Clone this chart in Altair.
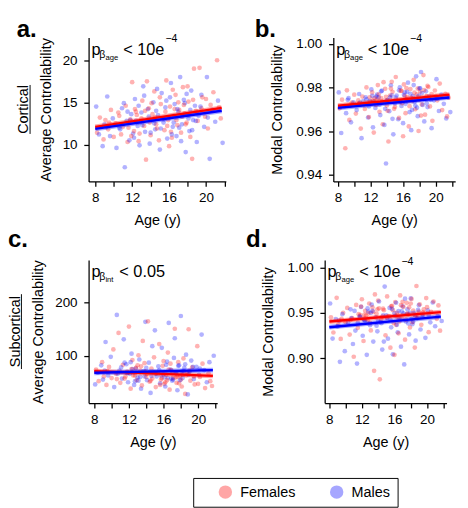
import altair as alt
import pandas as pd

FONT = "Liberation Sans"

# ---------------- data ----------------
sexes = ["Females", "Males"]
sex_colors = ["#ff0000", "#0000ff"]

female_age = [8.2, 8.5, 8.9, 9.1, 9.4, 9.7, 10.0, 10.2, 10.5, 10.8, 11.0, 11.3, 11.5, 11.8, 12.0,
              12.2, 12.4, 12.7, 12.9, 13.1, 13.3, 13.5, 13.8, 14.0, 14.2, 14.4, 14.6, 14.9, 15.1, 15.3,
              15.5, 15.7, 15.9, 16.1, 16.3, 16.5, 16.7, 16.9, 17.1, 17.3, 17.5, 17.7, 17.9, 18.1, 18.3,
              18.5, 18.7, 18.9, 19.1, 19.3, 19.6, 19.9, 20.2, 20.5, 20.8, 21.2, 21.4, 21.6, 13.6, 16.0,
              12.5, 14.7, 16.6, 17.8, 15.0, 13.0, 18.0, 11.6, 19.0, 16.2, 14.1, 17.4, 12.8, 15.6, 18.6,
              13.9, 10.6, 16.8, 19.5, 14.5, 17.0, 12.3, 15.8, 18.2, 20.0, 13.4, 16.4, 11.9, 17.6, 9.5]
male_age = [8.1, 8.4, 8.8, 9.0, 9.3, 9.6, 9.9, 10.3, 10.6, 10.9, 11.2, 11.4, 11.7, 11.9, 12.1,
            12.3, 12.6, 12.8, 13.0, 13.2, 13.4, 13.7, 13.9, 14.1, 14.3, 14.5, 14.8, 15.0, 15.2, 15.4,
            15.6, 15.8, 16.0, 16.2, 16.4, 16.6, 16.8, 17.0, 17.2, 17.4, 17.6, 17.8, 18.0, 18.2, 18.4,
            18.6, 18.8, 19.0, 19.2, 19.5, 19.8, 20.1, 20.4, 20.7, 21.0, 21.3, 21.8, 14.7, 17.3, 11.1,
            12.4, 14.6, 16.5, 17.7, 15.1, 13.1, 18.1, 11.5, 18.9, 16.1, 14.0, 17.5, 12.7, 15.5, 18.5,
            13.8, 10.7, 16.9, 19.4, 14.4, 17.1, 12.2, 15.7, 18.3, 20.2, 13.3, 16.3, 11.8, 17.9, 9.2]

cort_avg_f = [11.4, 13.2, 10.6, 12.9, 11.8, 14.1, 10.9, 12.5, 13.8, 11.2, 12.1, 14.6, 10.3, 13.0, 17.4,
              11.6, 13.9, 10.4, 12.7, 15.2, 12.2, 8.2, 14.3, 11.1, 13.6, 16.3, 12.4, 10.5, 14.8, 13.1,
              11.7, 17.6, 12.9, 14.5, 10.8, 13.4, 15.9, 12.3, 14.1, 11.4, 16.8, 13.7, 12.6, 15.1, 10.9,
              8.3, 19.0, 14.0, 12.8, 19.1, 15.6, 13.3, 11.9, 14.7, 16.2, 20.0, 14.4, 13.1, 17.5, 9.8,
              13.5, 11.9, 14.2, 12.4, 15.6, 13.1, 16.9, 12.0, 13.8, 11.5, 14.9, 13.3, 11.3, 13.9, 15.3,
              12.6, 13.4, 12.9, 14.3, 13.2, 15.0, 14.2, 12.2, 13.6, 15.4, 14.0, 16.5, 11.0, 14.7, 12.6]
cort_avg_m = [14.5, 11.2, 9.8, 12.4, 15.7, 11.0, 13.1, 9.6, 12.0, 14.3, 7.3, 12.8, 10.5, 13.6, 11.3,
              15.4, 12.2, 9.9, 13.8, 16.9, 11.5, 14.2, 10.1, 12.9, 15.0, 11.8, 13.5, 9.4, 16.1, 12.6,
              14.4, 10.7, 13.2, 17.3, 12.1, 14.8, 11.0, 13.9, 18.0, 12.4, 15.3, 9.1, 13.6, 11.6, 16.4,
              12.9, 14.6, 10.3, 13.4, 15.9, 12.1, 18.0, 8.3, 14.1, 12.7, 15.2, 10.2, 16.6, 10.4, 14.9,
              12.8, 14.0, 12.6, 14.9, 11.9, 12.3, 13.1, 13.9, 12.8, 15.6, 11.4, 13.5, 14.6, 13.0, 11.7,
              13.3, 11.8, 14.2, 14.5, 12.5, 12.0, 10.8, 15.2, 14.1, 13.2, 15.8, 11.2, 12.9, 16.0, 12.1]

cort_modal_f = [0.9705, 0.9745, 0.9522, 0.9788, 0.9652, 0.9731, 0.9768, 0.9681, 0.9742, 0.9612,
                0.9759, 0.9702, 0.9801, 0.9665, 0.9736, 0.9778, 0.9594, 0.9721, 0.9812, 0.9689,
                0.9752, 0.9632, 0.9795, 0.9718, 0.9553, 0.9764, 0.9827, 0.9703, 0.9849, 0.9741,
                0.9661, 0.9786, 0.9729, 0.9815, 0.9683, 0.9757, 0.9622, 0.9794, 0.9738, 0.9836,
                0.9701, 0.9769, 0.9601, 0.9782, 0.9723, 0.9858, 0.9676, 0.9761, 0.9803, 0.9714,
                0.9648, 0.9787, 0.9742, 0.9819, 0.9697, 0.9772, 0.9668, 0.9754, 0.9825, 0.9577,
                0.9752, 0.9781, 0.9738, 0.9796, 0.9712, 0.9769, 0.9744, 0.9727, 0.9808, 0.9763,
                0.9694, 0.9777, 0.9748, 0.9735, 0.9789, 0.9758, 0.9726, 0.9715, 0.9771, 0.9796,
                0.9753, 0.9741, 0.9785, 0.9672, 0.9761, 0.9733, 0.9798, 0.9756, 0.9745, 0.9718]
cort_modal_m = [0.9778, 0.9592, 0.9715, 0.9683, 0.9752, 0.9641, 0.9733, 0.9697, 0.9771, 0.9568,
                0.9724, 0.9756, 0.9663, 0.9739, 0.9792, 0.9618, 0.9707, 0.9768, 0.9755, 0.9674,
                0.9786, 0.9629, 0.9452, 0.9743, 0.9692, 0.9811, 0.9586, 0.9728, 0.9764, 0.9655,
                0.9802, 0.9716, 0.9637, 0.9779, 0.9746, 0.9823, 0.9688, 0.9605, 0.9761, 0.9734,
                0.9852, 0.9669, 0.9797, 0.9872, 0.9721, 0.9645, 0.9783, 0.9711, 0.9759, 0.9614,
                0.9742, 0.9839, 0.9693, 0.9768, 0.9726, 0.9659, 0.9688, 0.9657, 0.9812, 0.9738,
                0.9736, 0.9765, 0.9781, 0.9708, 0.9754, 0.9722, 0.9797, 0.9746, 0.9729, 0.9767,
                0.9741, 0.9718, 0.9759, 0.9788, 0.9749, 0.9703, 0.9731, 0.9772, 0.9744, 0.9756,
                0.9698, 0.9762, 0.9737, 0.9775, 0.9751, 0.9783, 0.9726, 0.9714, 0.9763, 0.9744]

sub_avg_f = [74, 52, 88, 61, 45, 79, 58, 112, 66, 143, 49, 83, 57, 70, 155,
             38, 92, 63, 54, 101, 72, 44, 86, 60, 165, 51, 76, 97, 41, 68,
             122, 55, 81, 47, 64, 106, 36, 73, 58, 151, 49, 88, 62, 42, 95,
             28, 69, 150, 53, 78, 46, 118, 60, 85, 39, 67, 52, 43, 128, 90,
             63, 57, 74, 48, 69, 82, 55, 61, 72, 50, 66, 59, 77, 45, 63,
             70, 56, 85, 61, 53, 67, 75, 58, 64, 47, 80, 54, 68, 60, 71]
sub_avg_m = [46, 68, 82, 55, 126, 63, 98, 41, 177, 72, 57, 131, 84, 50, 66,
             104, 45, 76, 59, 93, 38, 71, 164, 54, 87, 30, 69, 148, 61, 80,
             48, 115, 65, 42, 89, 162, 74, 53, 96, 67, 35, 82, 175, 58, 77,
             102, 27, 70, 91, 56, 79, 64, 140, 73, 50, 88, 100, 118, 133, 78,
             75, 62, 58, 81, 66, 53, 70, 87, 64, 59, 77, 68, 52, 73, 84,
             61, 66, 57, 79, 69, 55, 88, 63, 71, 76, 60, 83, 67, 54, 72]

sub_modal_f = [0.9452, 0.9285, 0.9668, 0.9371, 0.9214, 0.9503, 0.9398, 0.9556, 0.9262, 0.9445,
               0.9017, 0.9589, 0.9336, 0.9478, 0.9652, 0.9191, 0.9524, 0.9417, 0.9605, 0.9308,
               0.9562, 0.8862, 0.9491, 0.9637, 0.8768, 0.9435, 0.9548, 0.9254, 0.9683, 0.9466,
               0.9117, 0.9579, 0.9389, 0.9621, 0.9503, 0.9276, 0.9694, 0.9437, 0.9568, 0.9205,
               0.9612, 0.9483, 0.9341, 0.9656, 0.9527, 0.9118, 0.9798, 0.9452, 0.9596, 0.9369,
               0.9541, 0.9665, 0.9288, 0.9512, 0.9627, 0.9436, 0.9584, 0.9305, 0.9705, 0.9038,
               0.9472, 0.9531, 0.9405, 0.9563, 0.9448, 0.9392, 0.9605, 0.9487, 0.9516, 0.9369,
               0.9552, 0.9428, 0.9497, 0.9574, 0.9461, 0.9539, 0.9423, 0.9586, 0.9507, 0.9458,
               0.9623, 0.9479, 0.9531, 0.9398, 0.9564, 0.9512, 0.9447, 0.9571, 0.9493, 0.9436]
sub_modal_m = [0.9605, 0.9218, 0.9433, 0.9352, 0.8961, 0.9487, 0.9079, 0.9394, 0.9541, 0.9158,
               0.9306, 0.8942, 0.9462, 0.9567, 0.9249, 0.9421, 0.9038, 0.9515, 0.9366, 0.9592,
               0.9184, 0.9453, 0.9298, 0.9627, 0.9403, 0.9096, 0.9792, 0.9475, 0.9217, 0.9556,
               0.9342, 0.9044, 0.9498, 0.9613, 0.9287, 0.9446, 0.9128, 0.9574, 0.8932, 0.9407,
               0.9539, 0.9263, 0.9661, 0.9376, 0.9502, 0.9195, 0.9441, 0.9587, 0.9318, 0.9482,
               0.9226, 0.9528, 0.9397, 0.9616, 0.9354, 0.9465, 0.9412, 0.9184, 0.9658, 0.9523,
               0.9418, 0.9473, 0.9521, 0.9385, 0.9447, 0.9502, 0.9436, 0.9392, 0.9534, 0.9467,
               0.9412, 0.9489, 0.9551, 0.9428, 0.9476, 0.9359, 0.9443, 0.9518, 0.9462, 0.9387,
               0.9495, 0.9431, 0.9546, 0.9404, 0.9478, 0.9523, 0.9369, 0.9457, 0.9501, 0.9415]

# fitted regression lines (start / end of each line)
fit_age = [8.0, 21.7]
fit_cort_avg_f = [12.1, 14.35]
fit_cort_avg_m = [11.85, 14.0]
fit_cort_modal_f = [0.9717, 0.9768]
fit_cort_modal_m = [0.9707, 0.9755]
fit_sub_avg_f = [71, 62]
fit_sub_avg_m = [68, 73]
fit_sub_modal_f = [0.9406, 0.9510]
fit_sub_modal_m = [0.9343, 0.9460]

x_ticks = [8, 10, 12, 14, 16, 18, 20, 22]
panel_letters = ["a.", "b.", "c.", "d."]
y_titles = ["Average Controllability", "Modal Controllability",
            "Average Controllability", "Modal Controllability"]
region_labels = ["Cortical", "Subcortical"]
p_sub = ["age", "age", "int", "age"]
p_rel = ["< 10e", "< 10e", "< 0.05", "< 10e"]
p_sup = ["\u22124", "\u22124", "", "\u22124"]


def points_frame(f_vals, m_vals):
    rows = []
    for i in range(max(len(f_vals), len(m_vals))):
        if i < len(f_vals):
            rows.append({"age": female_age[i], "value": f_vals[i], "sex": "Females"})
        if i < len(m_vals):
            rows.append({"age": male_age[i], "value": m_vals[i], "sex": "Males"})
    return pd.DataFrame(rows)


def fit_frame(f_fit, m_fit):
    rows = []
    for a, v in zip(fit_age, f_fit):
        rows.append({"age": a, "value": v, "sex": "Females", "hex": sex_colors[0]})
    for a, v in zip(fit_age, m_fit):
        rows.append({"age": a, "value": v, "sex": "Males", "hex": sex_colors[1]})
    return pd.DataFrame(rows)


def txt(s, x, y, size, weight="normal", angle=None, align="left", baseline="alphabetic"):
    kw = dict(align=align, baseline=baseline, fontSize=size, font=FONT,
              fontWeight=weight, color="black", fill="black")
    if angle is not None:
        kw["angle"] = angle
    return alt.Chart(pd.DataFrame({"t": [s]})).mark_text(**kw).encode(
        x=alt.value(x), y=alt.value(y), text="t:N")


specs = [
    dict(f=cort_avg_f, m=cort_avg_m, ff=fit_cort_avg_f, mf=fit_cort_avg_m,
         w=143, h=150, xdom=[7.28, 22.15], ydom=[5.62, 22.7], yt=[10, 15, 20], fmt="d",
         tpad=9, lx=-75, ly=0, region=0),
    dict(f=cort_modal_f, m=cort_modal_m, ff=fit_cort_modal_f, mf=fit_cort_modal_m,
         w=127, h=150, xdom=[7.43, 22.4], ydom=[0.93696, 1.00304], yt=[0.94, 0.96, 0.98, 1.00],
         fmt=".2f", tpad=12, lx=-82, ly=0, region=None),
    dict(f=sub_avg_f, m=sub_avg_m, ff=fit_sub_avg_f, mf=fit_sub_avg_m,
         w=134, h=149, xdom=[7.34, 22.2], ydom=[10.7, 280.4], yt=[100, 200], fmt="d",
         tpad=10, lx=-84, ly=-14, region=1),
    dict(f=sub_modal_f, m=sub_modal_m, ff=fit_sub_modal_f, mf=fit_sub_modal_m,
         w=127, h=149, xdom=[7.43, 22.4], ydom=[0.8505, 1.0084], yt=[0.90, 0.95, 1.00],
         fmt=".2f", tpad=12, lx=-82, ly=-14, region=None),
]

legend_spec = alt.Legend(
    orient="none", legendX=109, legendY=459, direction="horizontal", title=None,
    strokeColor="black", fillColor="white", padding=7,
    symbolType="circle", symbolSize=196, symbolOpacity=1, symbolStrokeWidth=0,
    symbolOffset=19, labelOffset=8, labelFontSize=15, labelFont=FONT, labelColor="black",
    columnPadding=16, gridAlign="all",
)


def panel(i):
    s = specs[i]
    xs = alt.Scale(domain=s["xdom"], nice=False, zero=False)
    ys = alt.Scale(domain=s["ydom"], nice=False, zero=False)

    def xenc():
        return alt.X("age:Q", scale=xs, title="Age (y)",
                     axis=alt.Axis(values=x_ticks, labelExpr="datum.value % 4 == 0 ? datum.label : ''",
                                   title="Age (y)", labelOverlap=False))

    def yenc():
        return alt.Y("value:Q", scale=ys, title=y_titles[i],
                     axis=alt.Axis(values=s["yt"], format=s["fmt"], title=y_titles[i],
                                   titlePadding=s["tpad"], labelOverlap=False))

    pts = alt.Chart(points_frame(s["f"], s["m"])).mark_circle(size=24, opacity=0.3).encode(
        x=xenc(), y=yenc(),
        color=alt.Color("sex:N", scale=alt.Scale(domain=sexes, range=sex_colors), legend=legend_spec),
    )
    fits = fit_frame(s["ff"], s["mf"])
    halo = alt.Chart(fits).mark_line(strokeWidth=5, opacity=0.35).encode(
        x=xenc(), y=yenc(), color=alt.Color("hex:N", scale=None), detail="sex:N")
    core = alt.Chart(fits).mark_line(strokeWidth=2.5).encode(
        x=xenc(), y=yenc(), color=alt.Color("hex:N", scale=None), detail="sex:N")
    layers = [pts, halo, core,
              txt(panel_letters[i], s["lx"], s["ly"], 25, weight="bold"),
              txt("p", 3, 18, 17),
              txt("\u03b2", 11, 21, 11),
              txt(p_sub[i], 17.5, 23, 8)]
    rel_x = 32 if p_sub[i] == "int" else 36
    layers.append(txt(p_rel[i], rel_x, 18, 17))
    if p_sup[i]:
        layers.append(txt(p_sup[i], 80, 5, 11))
    if s["region"] is not None:
        lab = region_labels[s["region"]]
        cy = s["h"] / 2
        half = 25.5 if s["region"] == 0 else 39
        layers.append(txt(lab, s["lx"] + 15, cy, 15, angle=270, align="center", baseline="bottom"))
        layers.append(alt.Chart(pd.DataFrame({"k": [0]})).mark_rule(color="black", strokeWidth=1).encode(
            x=alt.value(s["lx"] + 14), y=alt.value(cy - half), y2=alt.value(cy + half)))
    return alt.layer(*layers).properties(width=s["w"], height=s["h"])


row1 = alt.hconcat(panel(0), panel(1), spacing=24)
row2 = alt.hconcat(panel(2), panel(3), spacing=24)

chart = alt.vconcat(row1, row2, spacing=0).configure_view(stroke=None).configure_axis(
    domainColor="black", domainWidth=1.3, tickColor="black", tickWidth=1.3, tickSize=5,
    labelColor="black", labelFont=FONT, labelFontSize=14, titleFont=FONT, titleFontSize=15,
    titleFontWeight="normal", titleColor="black", grid=False, labelPadding=7,
).configure_axisX(labelPadding=5, titlePadding=9).properties(padding=0, background="white")

chart.save("out.html", embed_options={"renderer": "svg", "actions": False})
